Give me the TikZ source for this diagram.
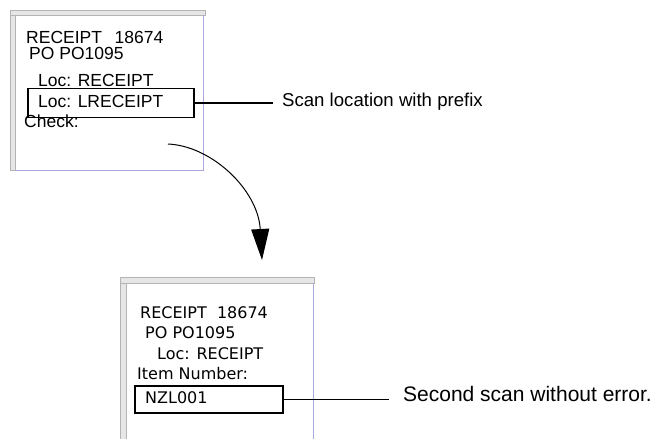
\documentclass[tikz,border=0pt]{standalone}
\usepackage{fontspec}
\setmainfont{Liberation Sans}
\newfontfamily\screenfont{DejaVu Sans}
\usetikzlibrary{arrows.meta}
\definecolor{bar-gray}{HTML}{B4B4B4}
\definecolor{bar-light}{HTML}{E6E6E6}
\definecolor{frame-blue}{HTML}{A8A8DC}

\begin{document}
\begin{tikzpicture}[x=1pt, y=-1pt,
    scrtxt/.style={anchor=base west, inner sep=0pt,
                   font=\fontsize{17.5}{20}\selectfont},
    scrtxtb/.style={anchor=base west, inner sep=0pt,
                    font=\screenfont\fontsize{16}{18}\selectfont},
    hilite/.style={draw=black, line width=1.3pt, inner sep=0pt},
    callout/.style={anchor=base west, inner sep=0pt,
                    font=\fontsize{18.6}{22}\selectfont},
    bar/.style={fill=bar-light, draw=bar-gray, line width=0.8pt}]
  \useasboundingbox (0,0) rectangle (654,439);

  % first screen
  \filldraw[bar] (10,10) rectangle (205,15);
  \filldraw[bar] (10,15) rectangle (15,170);
  \draw[frame-blue, line width=0.8pt] (203,15) -- (203,170) -- (15,170);
  \node[scrtxt] (r1) at (26,43) {RECEIPT\ \ \,18674};
  \node[scrtxt] (p1) at (29,59) {PO PO1095};
  \node[scrtxt] (l1) at (38,86) {Loc: RECEIPT};
  \node[scrtxt] (l2) at (38,107) {Loc: LRECEIPT};
  \node[scrtxt] (c1) at (24,127) {Check:};
  \node[hilite, minimum width=166pt, minimum height=29pt] (boxA) at (111,103) {};
  \node[callout] (scanlbl) at (282,106) {Scan location with prefix};
  \draw[line width=1.2pt] (boxA.east) -- ([xshift=-9pt]scanlbl.west |- boxA.east);

  % second screen
  \filldraw[bar] (120,277) rectangle (314,283);
  \filldraw[bar] (120,283) rectangle (126,440);
  \draw[frame-blue, line width=0.8pt] (313,283) -- (313,440);
  \node[scrtxtb] (r2) at (140,318) {RECEIPT\ \ 18674};
  \node[scrtxtb] (p2) at (145,338) {PO PO1095};
  \node[scrtxtb] (l3) at (157,359) {Loc: RECEIPT};
  \node[scrtxtb] (i2) at (137,379) {Item Number:};
  \node[scrtxtb] (n2) at (145,403) {NZL001};
  \node[hilite, minimum width=148pt, minimum height=27pt] (boxB) at (209,399.5) {};
  \node[callout, font=\fontsize{21}{24}\selectfont] (errlbl) at (403,401)
    {Second scan without error.};
  \draw[line width=1.2pt] (boxB.east) -- ([xshift=-14pt]errlbl.west |- boxB.east);

  % flow between the screens
  \coordinate (arcstart) at (168,144);
  \coordinate (arcend) at (262,260);
  \draw[line width=1pt, -{Triangle[length=31pt, width=18pt]}]
    (arcstart) .. controls (212,146) and (258,190) .. (arcend);
\end{tikzpicture}
\end{document}
